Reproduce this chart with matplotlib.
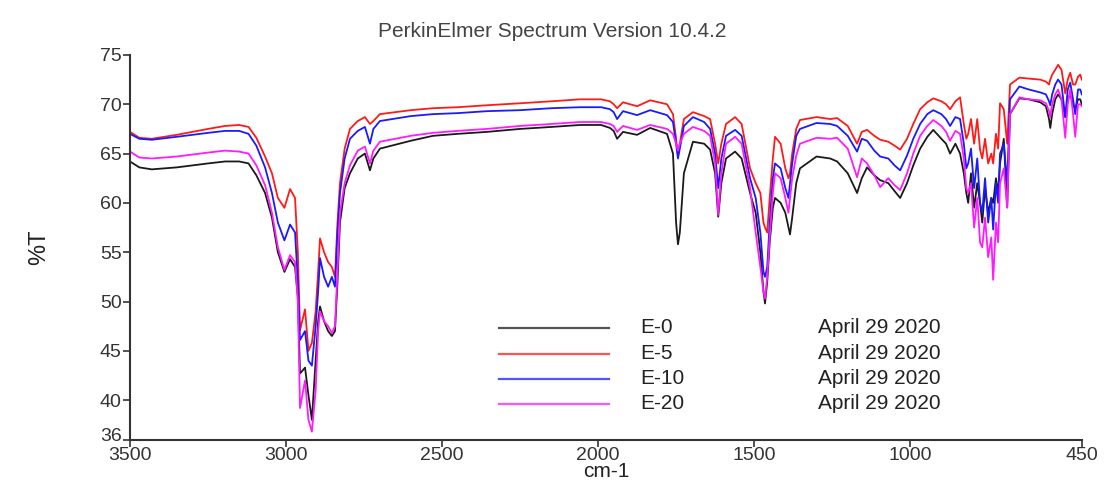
import matplotlib
matplotlib.use("Agg")
import matplotlib.pyplot as plt
import matplotlib.transforms as mtransforms
from matplotlib.lines import Line2D

plt.rcParams['font.family'] = ['Liberation Sans', 'DejaVu Sans']

# wavenumber grid (cm-1) and %T
wavenumber = [3500, 3470, 3430, 3350, 3250, 3195, 3150, 3120, 3095, 3067, 3045, 3026, 3005, 2987,
              2971, 2962, 2955, 2939, 2928, 2917, 2905, 2897, 2891, 2878, 2865, 2853, 2843, 2835,
              2827, 2812, 2795, 2770, 2747, 2731, 2720, 2699, 2600, 2529, 2450, 2356, 2250, 2150,
              2058, 1990, 1962, 1950, 1939, 1920, 1875, 1833, 1779, 1760, 1750, 1744, 1738, 1725,
              1696, 1660, 1641, 1625, 1615, 1605, 1590, 1561, 1540, 1513, 1495, 1480, 1470, 1465,
              1458, 1450, 1440, 1433, 1415, 1400, 1390, 1385, 1378, 1365, 1353, 1300, 1256, 1234,
              1200, 1170, 1155, 1138, 1115, 1096, 1070, 1050, 1032, 1010, 990, 968, 945, 926,
              900, 885, 872, 855, 840, 828, 820, 814, 805, 795, 785, 776, 769, 760,
              750, 740, 734, 725, 718, 712, 700, 689, 680, 650, 620, 583, 565, 555,
              551, 545, 535, 526, 515, 503, 495, 487, 478, 471, 462, 455, 450]

e0 = [64.2, 63.6, 63.4, 63.6, 64.0, 64.2, 64.2, 64.0, 62.8, 61.0, 58.5, 55.0, 53.0, 54.3,
      53.5, 50.5, 42.7, 43.3, 40.5, 38.0, 44.0, 48.0, 49.5, 48.0, 47.0, 46.5, 47.0, 52.0,
      58.0, 61.5, 63.0, 64.5, 65.0, 63.3, 64.5, 65.5, 66.3, 66.8, 67.0, 67.2, 67.5, 67.7,
      67.9, 67.9, 67.6, 67.3, 66.5, 67.2, 66.9, 67.6, 67.0, 65.0, 58.0, 55.8, 57.0, 63.0,
      66.2, 66.0, 65.4, 63.0, 58.6, 62.0, 64.5, 65.2, 64.5, 61.0, 59.0, 55.0, 51.0, 49.8,
      52.0, 56.0, 59.5, 60.5, 60.0, 59.0, 57.5, 56.8, 58.5, 62.0, 63.5, 64.7, 64.5, 64.2,
      63.0, 61.0, 62.5, 63.6, 62.8, 62.3, 62.0, 61.2, 60.5, 62.0, 63.8, 65.5, 66.7, 67.4,
      66.5, 66.0, 65.0, 66.0, 65.0, 63.0, 61.0, 60.0, 63.0, 59.5, 62.0, 60.0, 58.0, 61.5,
      59.0, 60.5, 60.0, 62.5, 61.0, 64.0, 66.5, 59.6, 69.0, 70.6, 70.5, 70.2, 69.8, 68.5,
      67.6, 69.0, 70.5, 71.0, 70.5, 68.7, 70.5, 71.0, 70.0, 69.5, 70.5, 70.5, 70.0]

e5 = [67.2, 66.6, 66.5, 66.9, 67.5, 67.8, 67.9, 67.7, 66.6, 64.7, 63.0, 60.5, 59.5, 61.4,
      60.5, 55.0, 47.1, 49.2, 45.0, 45.8, 49.0, 53.0, 56.4, 55.0, 54.0, 53.5, 52.5, 58.0,
      62.0, 65.5, 67.5, 68.3, 68.7, 68.0, 68.3, 69.0, 69.4, 69.6, 69.7, 69.9, 70.1, 70.3,
      70.5, 70.5, 70.3, 70.0, 69.6, 70.2, 69.8, 70.4, 70.0, 69.0, 66.5, 64.8, 66.0, 68.5,
      69.2, 68.8, 68.5, 66.0, 64.0, 66.0, 68.0, 68.7, 68.0, 63.5, 62.0, 61.0, 58.0, 57.5,
      57.0, 60.5, 64.5, 66.7, 66.0, 63.5, 62.5, 63.0, 65.0, 67.5, 68.4, 68.7, 68.5, 68.6,
      67.8, 66.0, 67.2, 67.4, 66.8, 66.4, 66.2, 65.8, 65.4, 66.5, 68.0, 69.5, 70.2, 70.6,
      70.3, 70.0, 69.5, 70.3, 70.7, 68.0, 66.5, 67.0, 68.5, 66.0, 68.5, 65.4, 64.5, 66.5,
      64.0, 65.0, 64.0, 67.0, 65.5, 70.1, 69.5, 66.0, 72.0, 72.7, 72.6, 72.5, 72.3, 72.0,
      72.5, 73.0, 73.5, 74.0, 73.5, 71.1, 72.5, 73.2, 72.0, 72.0, 72.8, 73.0, 72.5]

e10 = [67.0, 66.5, 66.4, 66.7, 67.1, 67.3, 67.3, 67.0, 65.8, 63.6, 61.0, 58.0, 56.2, 57.8,
       57.0, 52.0, 46.1, 47.0, 44.0, 43.5, 47.5, 51.0, 54.4, 52.5, 51.5, 52.5, 51.5, 57.0,
       61.0, 64.5, 66.5, 67.3, 67.7, 66.0, 67.5, 68.3, 68.8, 69.0, 69.1, 69.3, 69.4, 69.6,
       69.7, 69.7, 69.5, 69.2, 68.5, 69.3, 68.9, 69.4, 68.9, 68.2, 66.0, 64.5, 65.5, 67.8,
       68.7, 68.2, 67.5, 65.0, 61.5, 64.5, 66.8, 67.4, 66.8, 62.5, 60.5, 57.0, 53.0, 52.5,
       53.5, 58.0, 62.5, 64.0, 63.5, 61.5, 60.5, 62.0, 64.0, 66.8, 67.5, 68.1, 68.0, 67.8,
       66.8, 65.2, 66.5, 66.3, 65.3, 64.7, 64.5, 63.8, 63.3, 64.8, 66.5, 68.0, 69.0, 69.4,
       69.0, 68.5, 67.8, 68.7, 68.5, 66.0, 63.5, 64.0, 65.5, 61.5, 64.5, 60.0, 59.0, 62.5,
       58.0, 60.5, 57.3, 62.0, 60.0, 65.0, 66.0, 62.0, 70.5, 71.8, 71.5, 71.2, 71.0, 70.3,
       69.9, 71.0, 72.0, 72.5, 72.0, 68.7, 71.5, 72.2, 70.5, 69.0, 71.5, 71.5, 71.0]

e20 = [65.2, 64.6, 64.5, 64.7, 65.1, 65.3, 65.2, 65.0, 63.8, 61.8, 59.0, 55.5, 53.2, 54.7,
       54.0, 50.0, 39.2, 42.0, 38.0, 36.8, 41.0, 47.0, 49.0, 48.0, 47.5, 46.8, 47.5, 53.0,
       59.0, 62.0, 63.8, 65.3, 65.7, 64.0, 65.3, 66.2, 66.8, 67.1, 67.3, 67.5, 67.8, 68.0,
       68.2, 68.2, 68.0, 67.8, 67.2, 67.8, 67.4, 67.9, 67.5, 67.0, 66.0, 65.3, 66.0, 67.0,
       67.7, 67.3, 66.8, 64.0, 58.8, 63.0, 66.0, 66.7, 66.0, 61.5, 57.0, 53.5, 51.0, 50.3,
       52.5, 56.5, 61.0, 63.0, 62.5, 60.5, 59.0, 60.5, 62.5, 64.8, 66.0, 66.6, 66.5, 66.6,
       65.5, 62.6, 64.5, 64.0, 62.8, 61.6, 62.5, 61.8, 61.3, 63.0, 65.0, 66.8, 67.8, 68.4,
       67.8, 67.2, 66.3, 67.3, 67.0, 64.5, 61.5, 61.0, 62.0, 57.5, 60.5, 56.0, 55.5, 58.5,
       54.5, 56.5, 52.2, 58.0, 56.0, 62.0, 63.5, 59.5, 69.0, 70.7, 70.5, 70.4, 70.1, 69.3,
       68.7, 70.0, 71.0, 71.5, 70.5, 66.6, 70.0, 71.5, 69.0, 66.7, 70.0, 70.0, 69.8]

names = ['E-0', 'E-5', 'E-10', 'E-20']
dates = ['April 29 2020'] * 4
colors = ['#1a1a1a', '#ff1a1a', '#1a1aff', '#ff1aff']
xticks = [3500, 3000, 2500, 2000, 1500, 1000, 450]
yticks = [36, 40, 45, 50, 55, 60, 65, 70, 75]

fig = plt.figure(figsize=(11.05, 4.82), dpi=100)
ax = fig.add_axes([0.1176, 0.088, 0.8614, 0.798])

for ys, c in zip([e0, e5, e10, e20], colors):
    ax.plot(wavenumber, ys, color=c, lw=1.3)

ax.set_xlim(3500, 450)
ax.set_ylim(36, 75)
ax.set_xticks(xticks)
ax.set_yticks(yticks)
ax.tick_params(labelsize=14, colors='#333333', length=5, width=1.2, pad=1)
ax.tick_params(axis='x', pad=0)
for s in ['top', 'right']:
    ax.spines[s].set_visible(False)
for s in ['left', 'bottom']:
    ax.spines[s].set_color('#333333')
    ax.spines[s].set_linewidth(1.5)

# lift the bottom y label a little so it clears the first x label
lowest = ax.get_yticklabels()[0]
lowest.set_transform(lowest.get_transform() +
                     mtransforms.ScaledTranslation(0, 4 / 72, fig.dpi_scale_trans))

ax.set_xlabel('cm-1', fontsize=15, color='#222222', va='baseline')
ax.xaxis.set_label_coords(0.5, -0.097)
ax.set_ylabel('%T', fontsize=17, color='#222222', labelpad=36)

fig.text(0.5, 0.935, 'PerkinElmer Spectrum Version 10.4.2', ha='center', va='center',
         fontsize=15, color='#444444')

# legend block: line sample, sample name, date
row_y = [0.32, 0.266, 0.214, 0.162]
for y, n, d, c in zip(row_y, names, dates, colors):
    fig.add_artist(Line2D([0.452, 0.551], [y, y], color=c, lw=1.6, alpha=0.75))
    fig.text(0.579, y, n, fontsize=15, color='#222222', va='center')
    fig.text(0.740, y, d, fontsize=15, color='#222222', va='center')

fig.savefig('out.png', dpi=100)
